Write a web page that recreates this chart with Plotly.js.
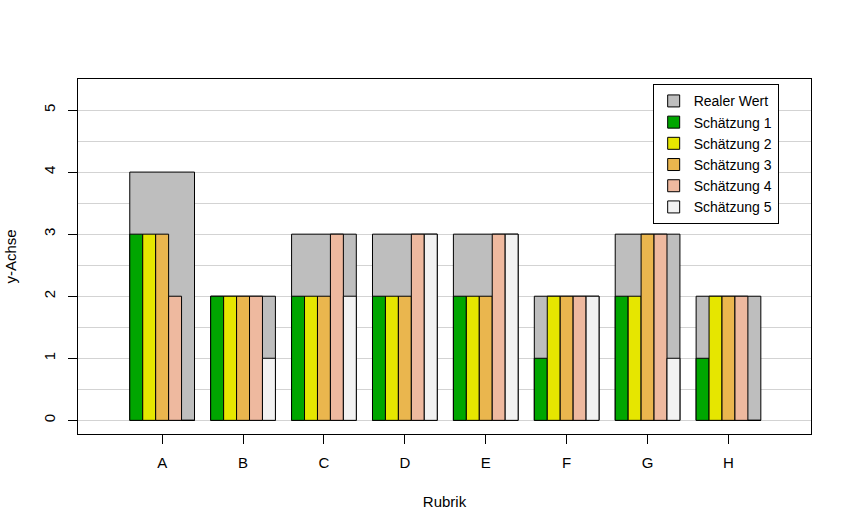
<!DOCTYPE html>
<html>
<head>
<meta charset="utf-8">
<script src="https://cdn.plot.ly/plotly-3.0.1.min.js"></script>
<style>html,body{margin:0;padding:0;background:#fff;}#chart{width:852px;height:532px;}</style>
</head>
<body>
<div id="chart"></div>
<script>
var categories = ["A","B","C","D","E","F","G","H"];
var realerWert = [4,2,3,3,3,2,3,2];
var schaetzung1 = [3,2,2,2,2,1,2,1];
var schaetzung2 = [3,2,2,2,2,2,2,2];
var schaetzung3 = [3,2,2,2,2,2,3,2];
var schaetzung4 = [2,2,3,3,3,2,3,2];
var schaetzung5 = [0,1,2,3,3,2,1,0];
var seriesNames = ["Schätzung 1","Schätzung 2","Schätzung 3","Schätzung 4","Schätzung 5"];
var seriesValues = [schaetzung1,schaetzung2,schaetzung3,schaetzung4,schaetzung5];
var seriesColors = ["#00A600","#E6E600","#EAB64E","#EEB99F","#F2F2F2"];

var xpos = categories.map(function(c,i){return i;});
var groupWidth = 0.8;
var sub = groupWidth/seriesValues.length;

var traces = [{
  type:"bar", name:"Realer Wert", x:xpos, y:realerWert,
  width:groupWidth, offset:-groupWidth/2,
  marker:{color:"#BEBEBE", line:{color:"#000", width:1}},
  hoverinfo:"y"
}];
seriesValues.forEach(function(vals,k){
  traces.push({
    type:"bar", name:seriesNames[k], x:xpos, y:vals,
    width:sub, offset:-groupWidth/2 + k*sub,
    marker:{color:seriesColors[k], line:{color:"#000", width:1}},
    hoverinfo:"y"
  });
});

var layout = {
  width:852, height:532,
  margin:{l:78, r:41, t:79, b:98},
  paper_bgcolor:"#fff", plot_bgcolor:"#fff",
  font:{family:"Liberation Sans, Arial, sans-serif", size:15, color:"#000"},
  barmode:"overlay",
  showlegend:true,
  legend:{x:0.784, y:0.985, xanchor:"left", yanchor:"top", bgcolor:"#fff",
          bordercolor:"#000", borderwidth:1, font:{size:14}, traceorder:"normal",
          itemclick:false},
  xaxis:{
    range:[-1.04, 8.02], tickmode:"array", tickvals:xpos, ticktext:categories,
    showgrid:false, zeroline:false, showline:true, linecolor:"#000", linewidth:1, mirror:true,
    ticks:"outside", ticklen:9, tickcolor:"#000", ticklabelstandoff:6,
    title:{text:"Rubrik", standoff:26, font:{size:15}}
  },
  yaxis:{
    range:[-0.22, 5.5], tickmode:"linear", tick0:0, dtick:1, tickangle:-90,
    showgrid:true, gridcolor:"#D3D3D3", gridwidth:1,
    minor:{dtick:0.5, tick0:0, showgrid:true, gridcolor:"#D3D3D3", gridwidth:1},
    zeroline:false, showline:true, linecolor:"#000", linewidth:1, mirror:true,
    ticks:"outside", ticklen:9, tickcolor:"#000", ticklabelstandoff:7,
    title:{text:"y-Achse", standoff:20, font:{size:15}}
  }
};
Plotly.newPlot("chart", traces, layout, {displayModeBar:false, staticPlot:true});
</script>
</body>
</html>
